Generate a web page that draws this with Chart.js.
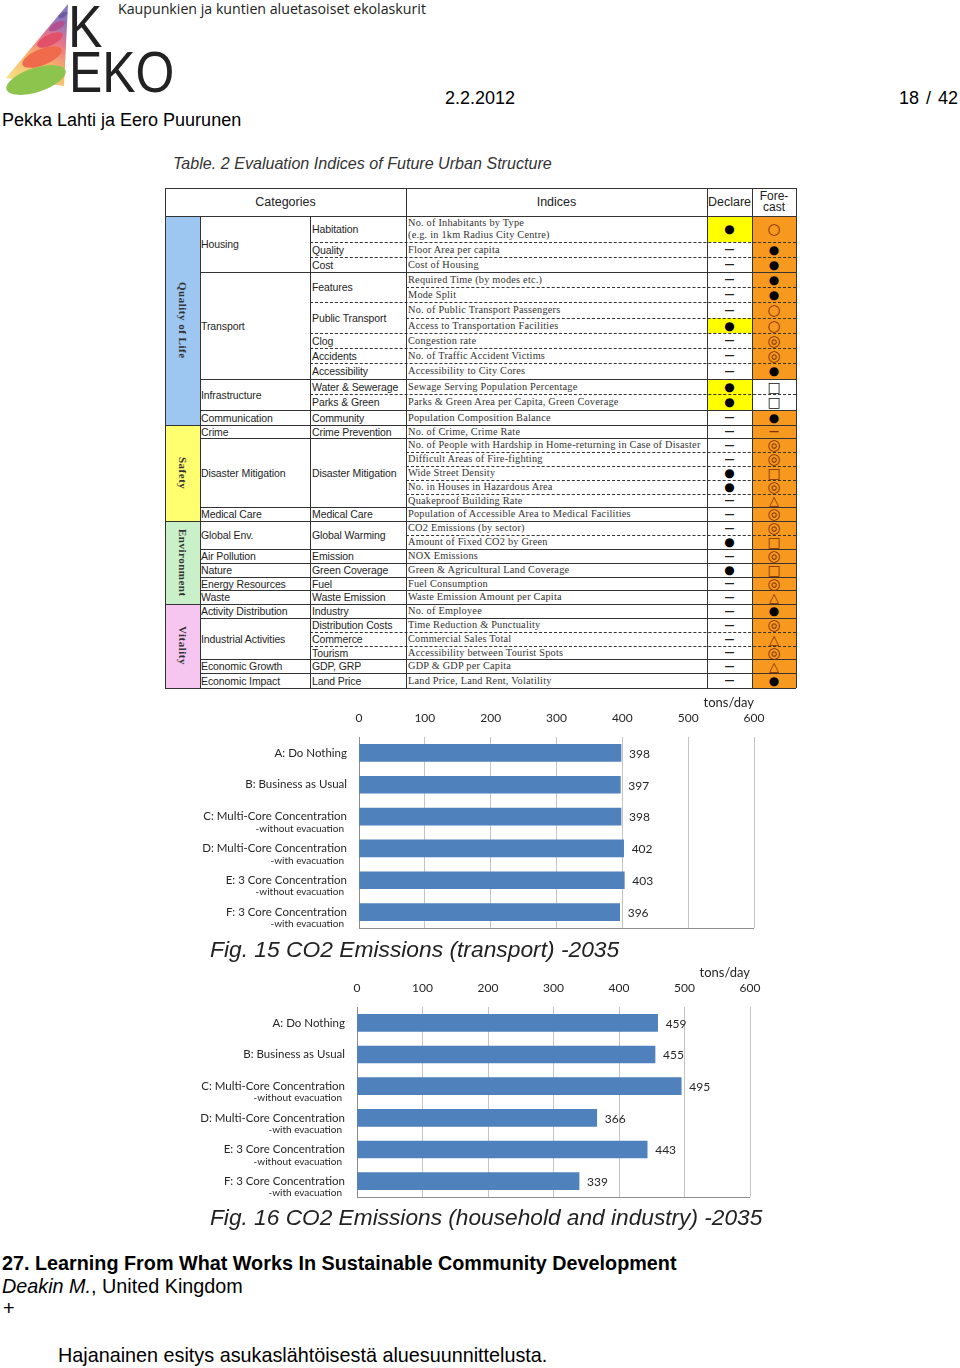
<!DOCTYPE html>
<html lang="fi">
<head>
<meta charset="UTF-8">
<title>KEKO 18 / 42</title>
<style>
  body { margin:0; width:960px; height:1368px; background:#fff; position:relative; overflow:hidden;
         font-family:"Liberation Sans", Arial, sans-serif; color:#000; }
  .abs { position:absolute; white-space:nowrap; line-height:1; }
  canvas { position:absolute; }
  .cell { position:absolute; display:flex; align-items:center; overflow:visible; white-space:nowrap; }
  .sans { font-family:"Liberation Sans", Arial, sans-serif; font-size:10.5px; color:#1e1e1e; letter-spacing:-0.1px; }
  .serif { font-family:"Liberation Serif", "DejaVu Serif", serif; font-size:10.3px; color:#333; letter-spacing:0.22px; }
  .sym { justify-content:center; font-family:"DejaVu Sans", sans-serif; font-size:12px; }
  .strip span { writing-mode:vertical-rl; font-family:"Liberation Serif", serif; font-weight:bold; font-size:11px; color:#333; letter-spacing:0.5px; }
</style>
</head>
<body>
  <!-- header -->
  <svg class="abs" style="left:0;top:0" width="72" height="96" viewBox="0 0 72 96">
    <defs>
      <linearGradient id="cone" x1="0" y1="1" x2="0.4" y2="0">
        <stop offset="0" stop-color="#f6ec8a"/>
        <stop offset="0.45" stop-color="#f7b46a"/>
        <stop offset="0.75" stop-color="#e9758a"/>
        <stop offset="1" stop-color="#8a79c0"/>
      </linearGradient>
    </defs>
    <polygon points="68,4 6,78 64,86" fill="url(#cone)"/>
    <ellipse cx="36" cy="80" rx="31" ry="12" transform="rotate(-18 36 80)" fill="#8cc44e"/>
    <ellipse cx="42" cy="57" rx="21" ry="8" transform="rotate(-22 42 57)" fill="#ef6b4c"/>
    <ellipse cx="50" cy="40" rx="14" ry="5.5" transform="rotate(-25 50 40)" fill="#e2506a"/>
    <ellipse cx="57" cy="26" rx="9" ry="3.6" transform="rotate(-28 57 26)" fill="#b3508f"/>
    <ellipse cx="63" cy="15" rx="5" ry="2.2" transform="rotate(-30 63 15)" fill="#6f5aa6"/>
  </svg>
  <div class="abs" style="left:68px;top:-3px;font-size:60px;color:#222;transform:scaleX(0.86);transform-origin:left top">K</div>
  <div class="abs" style="left:69px;top:43px;font-size:58px;color:#222;transform:scaleX(0.86);transform-origin:left top">EKO</div>
  <div class="abs" style="left:118px;top:2px;font-family:'Open Sans',sans-serif;font-size:14.2px;color:#222">Kaupunkien ja kuntien aluetasoiset ekolaskurit</div>
  <div class="abs" style="left:2px;top:111px;font-size:18px">Pekka Lahti ja Eero Puurunen</div>
  <div class="abs" style="left:445px;top:89px;font-size:18px">2.2.2012</div>
  <div class="abs" style="right:2px;top:89px;font-size:18px;word-spacing:2px">18 / 42</div>

  <div class="abs" style="left:173px;top:155px;font-size:16.1px;font-style:italic;color:#333">Table. 2 Evaluation Indices of Future Urban Structure</div>
  <div id="tbl"></div>

  <canvas id="transportChart" width="620" height="245" style="left:160px;top:695px"></canvas>
  <div class="abs" style="left:210px;top:938px;font-size:22.8px;font-style:italic;color:#222">Fig. 15 CO2 Emissions (transport) -2035</div>
  <canvas id="householdChart" width="620" height="245" style="left:160px;top:965px"></canvas>
  <div class="abs" style="left:210px;top:1206px;font-size:22.7px;font-style:italic;color:#222">Fig. 16 CO2 Emissions (household and industry) -2035</div>

  <!-- footer -->
  <div class="abs" style="left:2px;top:1254px;font-size:19.8px;font-weight:bold">27. Learning From What Works In Sustainable Community Development</div>
  <div class="abs" style="left:2px;top:1277px;font-size:19.8px"><i>Deakin M.</i>, United Kingdom</div>
  <div class="abs" style="left:3px;top:1299px;font-size:19.8px">+</div>
  <div class="abs" style="left:58px;top:1346px;font-size:19.8px">Hajanainen esitys asukaslähtöisestä aluesuunnittelusta.</div>

  <script src="https://cdn.jsdelivr.net/npm/chart.js@4.4.1/dist/chart.umd.min.js"></script>
  <script>
    // ---- chart data ----
    const scenarios = ['A: Do Nothing', 'B: Business as Usual', 'C: Multi-Core Concentration',
                       'D: Multi-Core Concentration', 'E: 3 Core Concentration', 'F: 3 Core Concentration'];
    const scenarioNotes = ['', '', '-without evacuation', '-with evacuation', '-without evacuation', '-with evacuation'];
    const transportCO2 = [398, 397, 398, 402, 403, 396];
    const householdCO2 = [459, 455, 495, 366, 443, 339];
    const axisMin = 0, axisMax = 600, axisStep = 100;
    const unitLabel = 'tons/day';

    // ---- table data ----
    const strips = [['Quality of Life', 0, 13, '#9dc6f0'], ['Safety', 13, 20, '#ffff70'],
                    ['Environment', 20, 26, '#c9f0c9'], ['Vitality', 26, 32, '#f6c6f0']];
    const cats = [['Housing', 0, 3], ['Transport', 3, 10], ['Infrastructure', 10, 12], ['Communication', 12, 13],
                  ['Crime', 13, 14], ['Disaster Mitigation', 14, 19], ['Medical Care', 19, 20],
                  ['Global Env.', 20, 22], ['Air Pollution', 22, 23], ['Nature', 23, 24], ['Energy Resources', 24, 25],
                  ['Waste', 25, 26], ['Activity Distribution', 26, 27], ['Industrial Activities', 27, 30],
                  ['Economic Growth', 30, 31], ['Economic Impact', 31, 32]];
    const subs = [['Habitation', 0, 1], ['Quality', 1, 2], ['Cost', 2, 3], ['Features', 3, 5], ['Public Transport', 5, 7],
                  ['Clog', 7, 8], ['Accidents', 8, 9], ['Accessibility', 9, 10], ['Water & Sewerage', 10, 11],
                  ['Parks & Green', 11, 12], ['Community', 12, 13], ['Crime Prevention', 13, 14],
                  ['Disaster Mitigation', 14, 19], ['Medical Care', 19, 20], ['Global Warming', 20, 22],
                  ['Emission', 22, 23], ['Green Coverage', 23, 24], ['Fuel', 24, 25], ['Waste Emission', 25, 26],
                  ['Industry', 26, 27], ['Distribution Costs', 27, 28], ['Commerce', 28, 29], ['Tourism', 29, 30],
                  ['GDP, GRP', 30, 31], ['Land Price', 31, 32]];
    const indices = ['No. of Inhabitants by Type<br>(e.g. in 1km Radius City Centre)', 'Floor Area per capita', 'Cost of Housing',
      'Required Time (by modes etc.)', 'Mode Split', 'No. of Public Transport Passengers',
      'Access to Transportation Facilities', 'Congestion rate', 'No. of Traffic Accident Victims',
      'Accessibility to City Cores', 'Sewage Serving Population Percentage',
      'Parks &amp; Green Area per Capita, Green Coverage', 'Population Composition Balance', 'No. of Crime, Crime Rate',
      'No. of People with Hardship in Home-returning in Case of Disaster', 'Difficult Areas of Fire-fighting',
      'Wide Street Density', 'No. in Houses in Hazardous Area', 'Quakeproof Building Rate',
      'Population of Accessible Area to Medical Facilities', 'CO2 Emissions (by sector)', 'Amount of Fixed CO2 by Green',
      'NOX Emissions', 'Green &amp; Agricultural Land Coverage', 'Fuel Consumption', 'Waste Emission Amount per Capita',
      'No. of Employee', 'Time Reduction &amp; Punctuality', 'Commercial Sales Total',
      'Accessibility between Tourist Spots', 'GDP &amp; GDP per Capita', 'Land Price, Land Rent, Volatility'];
    const declare = ['●','—','—','—','—','—','●','—','—','—','●','●','—','—','—','—','●','●','—','—','—','●','—','●','—','—','—','—','—','—','—','—'];
    const declareYellow = [0, 6, 10, 11];
    const forecast = ['○','●','●','●','●','○','○','◎','◎','●','□','□','●','—','◎','◎','□','◎','△','◎','◎','□','◎','□','◎','△','●','◎','△','◎','△','●'];
    const forecastWhite = [10, 11];
    const rowH = [26,15,15,15,15,16,15,15,15,16,15,16,15, 13,14,14,14,14,13,14, 14,14,14,14,13,14, 14,14,14,13,14,15];

    // ---- table ----
    const tbl = document.getElementById('tbl');
    const colX = [165, 200, 310, 406, 707, 752, 796];
    const top0 = 188, headBottom = 216;
    const rowY = [headBottom];
    rowH.forEach(h => rowY.push(rowY[rowY.length - 1] + h));
    const bottom = rowY[rowY.length - 1];

    function el(cls, x1, y1, x2, y2, html, css) {
      const d = document.createElement('div');
      d.className = cls;
      d.style.left = x1 + 'px'; d.style.top = y1 + 'px';
      d.style.width = (x2 - x1) + 'px'; d.style.height = (y2 - y1) + 'px';
      if (css) Object.assign(d.style, css);
      if (html !== undefined) d.innerHTML = html;
      tbl.appendChild(d);
      return d;
    }
    function hline(x1, x2, y, style) {
      el('abs', x1, y, x2, y, undefined, { borderTop: '1px ' + style + ' #333', height: '0px' });
    }
    function vline(x, y1, y2) {
      el('abs', x, y1, x, y2, undefined, { borderLeft: '1px solid #333', width: '0px' });
    }

    // backgrounds
    strips.forEach(([t, a, b, c]) => {
      el('cell strip', colX[0], rowY[a], colX[1], rowY[b], '<span>' + t + '</span>', { background: c, justifyContent: 'center' });
    });
    for (let i = 0; i < rowH.length; i++) {
      if (!forecastWhite.includes(i)) el('abs', colX[5], rowY[i], colX[6], rowY[i + 1], undefined, { background: '#f7981f' });
      if (declareYellow.includes(i)) el('abs', colX[4] + 1, rowY[i], colX[5], rowY[i + 1], undefined, { background: '#ffff00' });
    }

    // horizontal rules
    const stripStarts = strips.map(s => s[1]);
    const catStarts = cats.map(c => c[1]);
    const subStarts = subs.map(s => s[1]);
    for (let i = 1; i < rowH.length; i++) {
      const y = rowY[i];
      if (stripStarts.includes(i)) hline(colX[0], colX[6], y, 'solid');
      else if (catStarts.includes(i)) hline(colX[1], colX[6], y, 'solid');
      else if (subStarts.includes(i)) hline(colX[2], colX[6], y, 'dashed');
      else hline(colX[3], colX[6], y, 'dashed');
    }
    hline(colX[0], colX[6], top0, 'solid');
    hline(colX[0], colX[6], headBottom, 'solid');
    hline(colX[0], colX[6], bottom, 'solid');
    vline(colX[0], top0, bottom);
    vline(colX[6], top0, bottom);
    [3, 4, 5].forEach(k => vline(colX[k], top0, bottom));
    [1, 2].forEach(k => vline(colX[k], headBottom, bottom));

    // header
    el('cell', colX[0], top0, colX[3], headBottom, 'Categories', { justifyContent: 'center', fontSize: '12.5px', color: '#222' });
    el('cell', colX[3], top0, colX[4], headBottom, 'Indices', { justifyContent: 'center', fontSize: '12.5px', color: '#222' });
    el('cell', colX[4], top0, colX[5], headBottom, 'Declare', { justifyContent: 'center', fontSize: '12.5px', color: '#222' });
    el('cell', colX[5], top0, colX[6], headBottom, 'Fore-<br>cast', { justifyContent: 'center', textAlign: 'center', fontSize: '12px', lineHeight: '11px', color: '#222' });

    // texts
    cats.forEach(([t, a, b]) => el('cell sans', colX[1] + 1, rowY[a], colX[2], rowY[b], t));
    subs.forEach(([t, a, b]) => el('cell sans', colX[2] + 2, rowY[a], colX[3], rowY[b], t));
    indices.forEach((t, i) => el('cell serif', colX[3] + 2, rowY[i], colX[4], rowY[i + 1], t, { lineHeight: '12px' }));
    declare.forEach((s, i) => el('cell sym', colX[4], rowY[i], colX[5], rowY[i + 1], s,
      { color: s === '●' ? '#000' : '#222', fontSize: s === '—' ? '10px' : '12px', fontWeight: s === '—' ? 'bold' : 'normal' }));
    const symSize = { '○': '15px', '◎': '15px', '□': '14px', '△': '13px', '●': '12px', '—': '10px' };
    forecast.forEach((s, i) => {
      let col = '#7f2e00';
      if (s === '●') col = '#000';
      if (forecastWhite.includes(i)) col = '#111';
      el('cell sym', colX[5], rowY[i], colX[6], rowY[i + 1], s,
        { color: col, fontSize: symSize[s], fontWeight: 'bold' });
    });

    // ---- charts ----
    const sideLabels = {
      id: 'sideLabels',
      afterDatasetsDraw(chart) {
        const { ctx, chartArea, scales } = chart;
        const values = chart.data.datasets[0].data;
        ctx.save();
        ctx.strokeStyle = '#8c8c8c';
        ctx.lineWidth = 1;
        ctx.beginPath();
        ctx.moveTo(chartArea.left, Math.round(chartArea.bottom) + 0.5);
        ctx.lineTo(chartArea.right, Math.round(chartArea.bottom) + 0.5);
        ctx.stroke();
        ctx.fillStyle = '#262626';
        ctx.textBaseline = 'middle';
        chart.data.labels.forEach((lab, i) => {
          const py = scales.y.getPixelForValue(i);
          ctx.textAlign = 'right';
          ctx.font = '11.5px Lato';
          ctx.fillText(lab, chartArea.left - 12, py);
          if (scenarioNotes[i]) {
            ctx.font = '10px Lato';
            ctx.fillText(scenarioNotes[i], chartArea.left - 15, py + 12);
          }
          ctx.textAlign = 'left';
          ctx.font = '12px Lato';
          ctx.fillText(String(values[i]), scales.x.getPixelForValue(values[i]) + 8, py + 1);
        });
        ctx.restore();
      }
    };

    function drawChart(id, values, leftWidth, padRight, padBottom) {
      return new Chart(document.getElementById(id), {
        type: 'bar',
        data: {
          labels: scenarios,
          datasets: [{ data: values, backgroundColor: '#4f81bd', barThickness: 17 }]
        },
        options: {
          indexAxis: 'y',
          responsive: false,
          animation: false,
          layout: { padding: { top: 0, left: 0, right: padRight, bottom: padBottom } },
          plugins: { legend: { display: false }, tooltip: { enabled: false } },
          scales: {
            x: {
              position: 'top', min: axisMin, max: axisMax,
              ticks: { stepSize: axisStep, padding: 12, color: '#262626', font: { family: 'Lato', size: 12 } },
              grid: { color: '#c4c4c4', drawTicks: false },
              border: { display: false },
              title: { display: true, text: unitLabel, align: 'end', color: '#262626', font: { family: 'Lato', size: 13 }, padding: 0 },
              afterFit(s) { s.height = 42; s.paddingLeft = 0; s.paddingRight = 0; }
            },
            y: {
              ticks: { display: false },
              grid: { display: false },
              border: { display: true, color: '#8c8c8c' },
              afterFit(s) { s.width = leftWidth; s.paddingTop = 0; s.paddingBottom = 0; }
            }
          }
        },
        plugins: [sideLabels]
      });
    }

    drawChart('transportChart', transportCO2, 199, 26, 12);
    drawChart('householdChart', householdCO2, 197, 30, 13);
  </script>
</body>
</html>
